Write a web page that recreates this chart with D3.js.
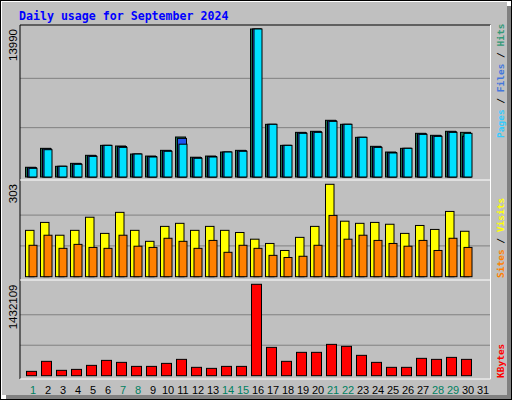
<!DOCTYPE html><html><head><meta charset="utf-8">
<script src="https://cdn.jsdelivr.net/npm/d3@7"></script>
<style>body{margin:0;background:#fff}svg{display:block}</style></head><body>
<svg id="c" width="512" height="400"></svg>
<script>
const days=d3.range(1,32).map(String);
const weekend=["1","7","8","14","15","21","22","28","29"];
const hits=[920,2710,1010,1290,2050,2990,2930,2170,1980,2520,3780,1870,1980,2360,2520,13990,4980,2990,4220,4320,5360,4980,3750,2900,2360,2710,4130,3940,4320,4220,0];
const files=[880,2650,1010,1250,2000,2990,2880,2170,1940,2480,3650,1830,1940,2360,2480,13990,4980,2990,4180,4280,5310,4980,3750,2850,2320,2710,4080,3890,4270,3850,0];
const pages=[820,2580,1010,1200,1950,2990,2800,2170,1890,2430,3100,1770,1890,2360,2430,13990,4980,2990,4130,4220,5260,4980,3750,2800,2270,2710,4030,3840,4220,4130,0];
const visits=[152,178,136,152,195,142,211,152,116,165,175,152,165,152,145,123,109,86,129,165,303,182,175,178,172,142,168,155,214,149,0];
const sites=[103,136,93,106,96,93,136,100,96,126,116,93,119,80,103,93,70,63,67,103,201,123,136,119,109,100,119,86,126,96,0];
const kbytes=[68000,225000,84000,99000,162000,240000,209000,146000,146000,193000,256000,131000,115000,146000,146000,1432109,444000,225000,366000,366000,491000,460000,319000,209000,131000,131000,272000,256000,287000,256000,0];
const maxTop=13990,maxMid=303,maxBot=1432109;

const svg=d3.select("#c");
svg.append("rect").attr("x",0).attr("y",0).attr("width",512).attr("height",400).attr("fill","#000");
svg.append("rect").attr("x",1).attr("y",1).attr("width",510).attr("height",398).attr("fill","#fff");
svg.append("rect").attr("x",6).attr("y",395).attr("width",505).attr("height",4).attr("fill","#808080");
svg.append("rect").attr("x",507).attr("y",6).attr("width",4).attr("height",393).attr("fill","#808080");
svg.append("rect").attr("x",2).attr("y",2).attr("width",505).attr("height",393).attr("fill","#c0c0c0");

svg.append("text").attr("x",19).attr("y",20).attr("fill","#0000ff").attr("font-family","DejaVu Sans Mono").attr("font-weight","bold").attr("font-size","11.6px").text("Daily usage for September 2024");

const x=d3.scaleBand().domain(days).range([25.5,490.5]).padding(0);
const L=20,R=490.5;
const panels=[{t:25,b:180,y0:177,y1:29,max:maxTop},{t:180,b:280,y0:276.7,y1:184.3,max:maxMid},{t:280,b:379,y0:375.7,y1:284.3,max:maxBot}];
panels.forEach(p=>{
  svg.append("rect").attr("x",L).attr("y",p.t).attr("width",R-L).attr("height",p.b-p.t).attr("fill","#c0c0c0");
  p.y=d3.scaleLinear().domain([0,p.max]).range([p.y0,p.y1]);
  [1/3,2/3].forEach(f=>svg.append("line").attr("x1",L).attr("x2",R).attr("y1",p.y(p.max*f)).attr("y2",p.y(p.max*f)).attr("stroke","#808080").attr("stroke-width",1));
});
svg.append("line").attr("x1",L).attr("x2",R).attr("y1",25).attr("y2",25).attr("stroke","#000");
svg.append("line").attr("x1",L).attr("x2",L).attr("y1",25).attr("y2",379).attr("stroke","#000");
svg.append("line").attr("x1",R).attr("x2",R).attr("y1",25).attr("y2",379).attr("stroke","#fff");
[180,280,379].forEach(yy=>svg.append("line").attr("x1",L).attr("x2",R).attr("y1",yy).attr("y2",yy).attr("stroke","#fff"));

function bars(data,p,dx,w,col){
  svg.append("g").selectAll("rect").data(data.map((v,i)=>({d:days[i],v}))).join("rect")
   .filter(o=>o.v>0)
   .attr("x",o=>x(o.d)+dx).attr("width",w)
   .attr("y",o=>p.y(o.v)).attr("height",o=>p.y0-p.y(o.v))
   .attr("fill",col).attr("stroke","#000").attr("stroke-width",1);
}
bars(hits,panels[0],0,10,"#1a7050");
bars(files,panels[0],2,9,"#2255ee");
bars(pages,panels[0],3.5,8,"#00e0ff");
bars(visits,panels[1],0,8.5,"#ffff00");
bars(sites,panels[1],3.5,8,"#ff8000");
bars(kbytes,panels[2],1,10,"#ff0000");

[[maxTop,29],[maxMid,184],[maxBot,284.5]].forEach(([v,yy])=>{
  svg.append("text").attr("transform",`translate(17,${yy}) rotate(-90)`).attr("text-anchor","end")
   .attr("font-family","Liberation Sans").attr("font-size","11.5px").attr("fill","#000").text(v);
});
function legend(parts,yBottom){
  const t=svg.append("text").attr("transform",`translate(503.5,${yBottom}) rotate(-90)`)
   .attr("font-family","DejaVu Sans Mono").attr("font-size","9.5px").attr("font-weight","bold");
  parts.forEach(([s,c])=>t.append("tspan").attr("fill",c).text(s));
}
legend([["Pages","#33ccff"],[" / ","#000"],["Files","#4477dd"],[" / ","#000"],["Hits","#339977"]],138);
legend([["Sites","#ff8000"],[" / ","#000"],["Visits","#ffff00"]],278);
legend([["KBytes","#ff0000"]],378);

const xa=d3.axisBottom(x).tickSize(0).tickPadding(5);
const g=svg.append("g").attr("transform","translate(0,381)").call(xa);
g.select(".domain").remove();
g.selectAll("text").attr("font-family","Liberation Sans").attr("font-size","11px")
 .attr("fill",d=>weekend.includes(d)?"#008060":"#000");
</script></body></html>
